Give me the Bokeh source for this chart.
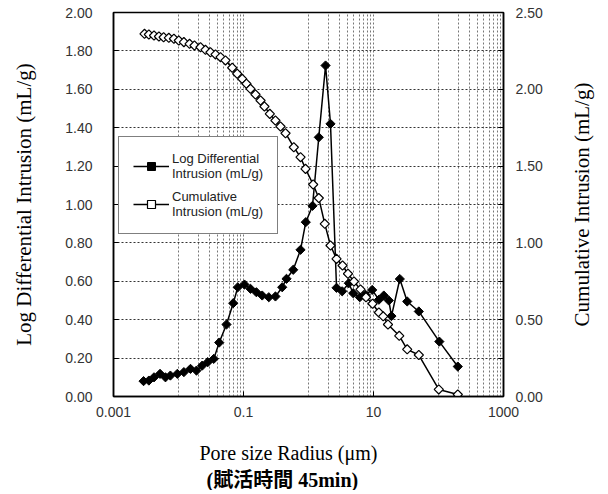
import math
from bokeh.plotting import figure
from bokeh.layouts import row
from bokeh.models import (Range1d, LinearAxis, FixedTicker, NumeralTickFormatter,
                          CustomJSTickFormatter, Legend, LegendItem, Title)
from bokeh.embed import file_html
from bokeh.resources import INLINE

# ---- data ----
ld_radius = [0.0029, 0.0035, 0.0042, 0.0052, 0.0063, 0.0075, 0.0096, 0.0121, 0.0153, 0.0189,
             0.0232, 0.0282, 0.0349, 0.0423, 0.0547, 0.0695, 0.0817, 0.1035, 0.128, 0.158,
             0.194, 0.245, 0.31, 0.394, 0.459, 0.582, 0.754, 0.908, 1.153, 1.44,
             1.83, 2.18, 2.70, 3.30, 4.17, 4.87, 6.15, 7.53, 9.55, 12.1,
             14.4, 17.2, 18.9, 25.4, 33.0, 49.8, 103, 198]
ld_value = [0.080, 0.083, 0.100, 0.118, 0.100, 0.109, 0.118, 0.127, 0.144, 0.135,
            0.161, 0.179, 0.196, 0.281, 0.375, 0.486, 0.569, 0.583, 0.561, 0.543,
            0.526, 0.517, 0.521, 0.569, 0.613, 0.660, 0.764, 0.908, 0.993, 1.35,
            1.724, 1.42, 0.566, 0.548, 0.590, 0.538, 0.517, 0.530, 0.555, 0.504,
            0.526, 0.500, 0.419, 0.612, 0.495, 0.443, 0.286, 0.156]

cum_radius = [0.0030, 0.0035, 0.0042, 0.0050, 0.0059, 0.0071, 0.0085, 0.0101, 0.0121, 0.0148,
              0.0176, 0.0218, 0.026, 0.031, 0.0371, 0.0443, 0.0528, 0.067, 0.080, 0.0955,
              0.111, 0.128, 0.153, 0.183, 0.21, 0.254, 0.31, 0.371, 0.443, 0.594,
              0.754, 0.90, 1.18, 1.44, 1.78, 2.18, 2.70, 3.34, 4.05, 5.01,
              6.31, 7.67, 9.66, 12.1, 14.1, 16.7, 24.9, 33.0, 49.8, 101, 198]
cum_value = [2.361, 2.357, 2.350, 2.344, 2.339, 2.335, 2.329, 2.318, 2.307, 2.296,
             2.285, 2.274, 2.257, 2.241, 2.227, 2.209, 2.188, 2.140, 2.101, 2.068,
             2.036, 2.003, 1.966, 1.927, 1.888, 1.840, 1.797, 1.758, 1.714, 1.623,
             1.558, 1.482, 1.380, 1.292, 1.124, 0.983, 0.896, 0.853, 0.799, 0.749,
             0.697, 0.646, 0.604, 0.547, 0.522, 0.469, 0.395, 0.307, 0.270, 0.046, 0.013]

x_tick_values = [0.001, 0.1, 10, 1000]
left_ticks = [0.0, 0.2, 0.4, 0.6, 0.8, 1.0, 1.2, 1.4, 1.6, 1.8, 2.0]
right_ticks = [0.0, 0.5, 1.0, 1.5, 2.0, 2.5]
right_minor = [0.25, 0.75, 1.25, 1.75, 2.25]
decades = [0.01, 0.1, 1, 10, 100]
minor_decades = [0.01, 1, 100]

legend_ld = "Log Differential\nIntrusion (mL/g)"
legend_cum = "Cumulative\nIntrusion (mL/g)"
x_title = "Pore size Radius (μm)"
x_subtitle = "(賦活時間 45min)"
y_title = "Log Differential Intrusion (mL/g)"
y2_title = "Cumulative Intrusion (mL/g)"

grid_ticks = list(decades) + [k * d for d in minor_decades for k in range(2, 10)]

SERIF = "Liberation Serif"
SANS = "Liberation Sans"

p = figure(frame_width=390, frame_height=384, x_axis_type="log",
           x_range=Range1d(0.001, 1000), y_range=Range1d(0, 2),
           output_backend="svg", toolbar_location=None,
           min_border_left=113, min_border_right=63, min_border_top=12, min_border_bottom=60)
p.background_fill_color = "white"
p.border_fill_color = "white"
p.outline_line_color = "black"
p.outline_line_width = 1.5

p.extra_y_ranges = {"cum": Range1d(0, 2.5)}

# grids
p.xgrid.ticker = FixedTicker(ticks=grid_ticks)
p.xgrid.grid_line_color = "#777777"
p.xgrid.grid_line_dash = "2 2"
p.xgrid.grid_line_width = 1
p.ygrid.ticker = FixedTicker(ticks=left_ticks)
p.ygrid.grid_line_color = "#333333"
p.ygrid.grid_line_dash = "2 2"
p.ygrid.grid_line_width = 1

# x axis
xa = p.xaxis[0]
xa.ticker = FixedTicker(ticks=x_tick_values, minor_ticks=[])
xa.formatter = CustomJSTickFormatter(code="return tick.toString();")
xa.major_tick_in = 5
xa.major_tick_out = 0
xa.minor_tick_in = 0
xa.minor_tick_out = 0
xa.axis_line_width = 1.5
xa.major_label_standoff = 10
xa.major_label_text_font = SANS
xa.major_label_text_font_size = "14px"
xa.major_label_text_color = "#333333"

# left axis
ya = p.yaxis[0]
ya.ticker = FixedTicker(ticks=left_ticks, minor_ticks=[])
ya.formatter = NumeralTickFormatter(format="0.00")
ya.major_tick_in = 5
ya.major_tick_out = 0
ya.minor_tick_in = 0
ya.minor_tick_out = 0
ya.axis_line_width = 1.5
ya.major_label_standoff = 21
ya.major_label_text_font = SANS
ya.major_label_text_font_size = "14px"
ya.major_label_text_color = "#333333"
ya.axis_label = y_title
ya.axis_label_text_font = SERIF
ya.axis_label_text_font_size = "21px"
ya.axis_label_text_font_style = "normal"
ya.axis_label_text_color = "black"
ya.axis_label_standoff = 26

# right axis (its title is drawn by the narrow companion figure so it reads bottom-to-top)
ra = LinearAxis(y_range_name="cum")
ra.ticker = FixedTicker(ticks=right_ticks, minor_ticks=right_minor)
ra.formatter = NumeralTickFormatter(format="0.00")
ra.major_tick_in = 5
ra.major_tick_out = 0
ra.minor_tick_in = 5
ra.minor_tick_out = 0
ra.axis_line_width = 1.5
ra.major_label_standoff = 12
ra.major_label_text_font = SANS
ra.major_label_text_font_size = "14px"
ra.major_label_text_color = "#333333"
p.add_layout(ra, "right")

# series
l1 = p.line(ld_radius, ld_value, line_color="black", line_width=1.5)
s1 = p.scatter(ld_radius, ld_value, marker="square", angle=math.pi / 4, size=6.5,
               fill_color="black", line_color="black", line_width=1)
l2 = p.line(cum_radius, cum_value, y_range_name="cum", line_color="black", line_width=1.5)
s2 = p.scatter(cum_radius, cum_value, y_range_name="cum", marker="square", angle=math.pi / 4,
               size=6.5, fill_color="white", line_color="black", line_width=1.2)

legend = Legend(items=[LegendItem(label=legend_ld, renderers=[l1, s1]),
                       LegendItem(label=legend_cum, renderers=[l2, s2])],
                location=(5, 162), orientation="vertical")
legend.border_line_color = "black"
legend.border_line_width = 1
legend.background_fill_color = "white"
legend.background_fill_alpha = 1
legend.label_text_font = SANS
legend.label_text_font_size = "13px"
legend.label_text_color = "#222222"
legend.glyph_width = 36
legend.label_standoff = 3
legend.spacing = 8
legend.padding = 14
legend.margin = 0
p.add_layout(legend, "center")

# bottom titles (a blank spacer panel first, then the two title lines)
t0 = Title(text=" ", text_font_size="1px", standoff=14)
t1 = Title(text=x_title, align="left", offset=86,
           text_font=SERIF, text_font_size="20px",
           text_font_style="normal", text_color="black", standoff=6)
t2 = Title(text=x_subtitle, align="left", offset=93,
           text_font="'Liberation Serif', 'Noto Sans CJK JP'",
           text_font_size="20px", text_font_style="bold", text_color="black", standoff=0)
p.add_layout(t0, "below")
p.add_layout(t1, "below")
p.add_layout(t2, "below")

# narrow companion figure carrying the right-hand axis title
q = figure(frame_width=4, frame_height=384, x_range=Range1d(0, 1), y_range=Range1d(0, 1),
           output_backend="svg", toolbar_location=None, x_axis_location=None,
           min_border_left=24, min_border_right=0, min_border_top=12, min_border_bottom=0)
q.outline_line_color = None
q.background_fill_color = "white"
q.border_fill_color = "white"
q.grid.visible = False
qa = q.yaxis[0]
qa.ticker = FixedTicker(ticks=[], minor_ticks=[])
qa.axis_line_color = None
qa.major_tick_out = 0
qa.major_tick_in = 0
qa.minor_tick_out = 0
qa.minor_tick_in = 0
qa.axis_label = y2_title
qa.axis_label_standoff = 0
qa.axis_label_text_font = SERIF
qa.axis_label_text_font_size = "21px"
qa.axis_label_text_font_style = "normal"
qa.axis_label_text_color = "black"

layout = row(p, q, spacing=0)
open("out.html", "w").write(file_html(layout, INLINE))
